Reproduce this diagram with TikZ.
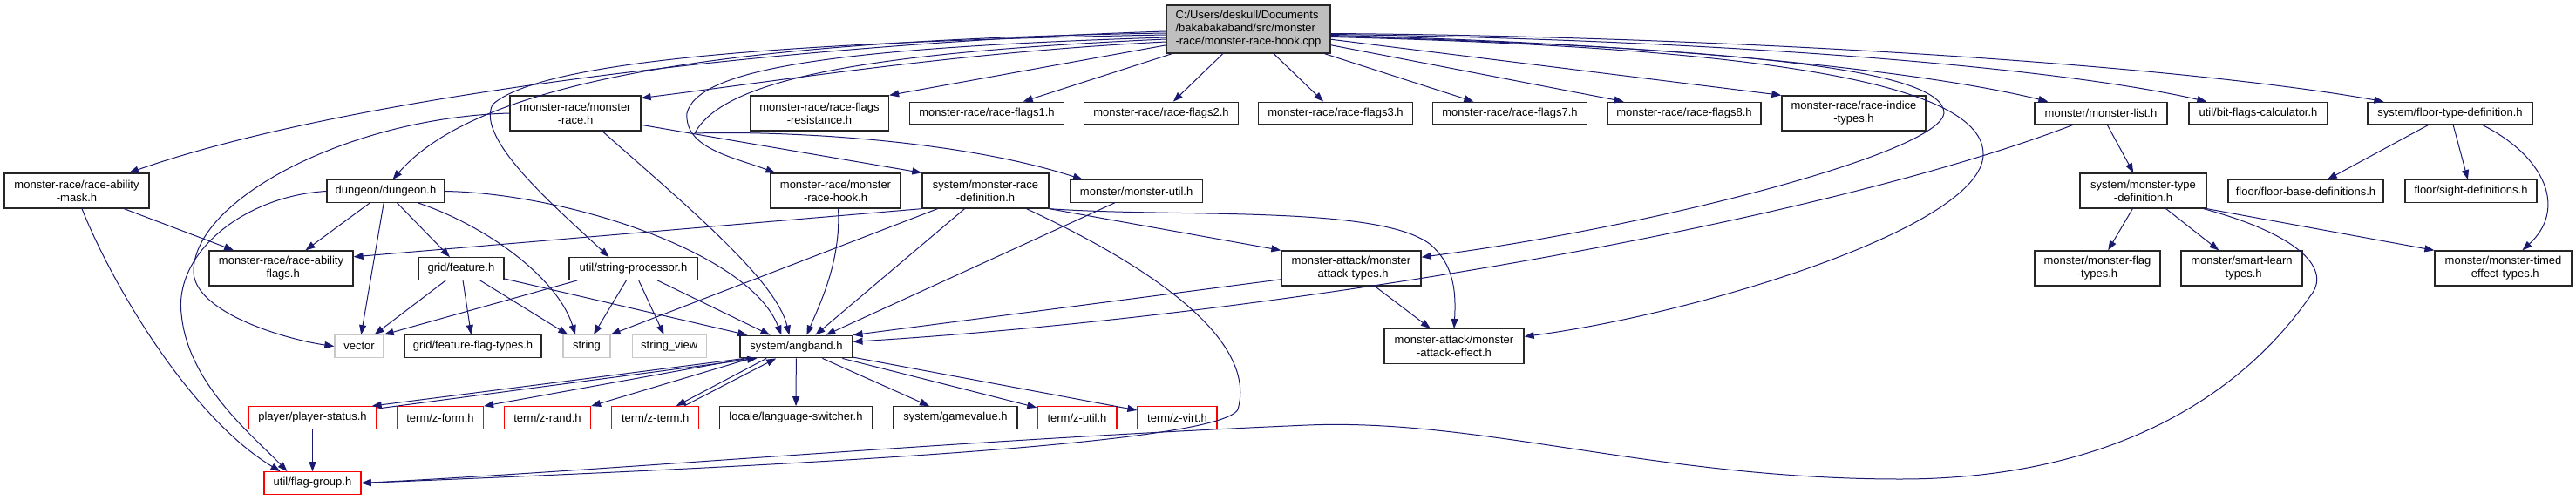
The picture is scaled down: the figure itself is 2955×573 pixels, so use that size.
\documentclass[tikz,border=0pt]{standalone}
\usepackage{fontspec}
\setmainfont{Liberation Sans}
\usetikzlibrary{arrows.meta}
\definecolor{edgeblue}{HTML}{191970}
\definecolor{rootgray}{HTML}{BFBFBF}
\definecolor{extgray}{HTML}{C8C8C8}

\begin{document}
\begin{tikzpicture}[x=1pt, y=-1pt,
  hdr/.style={draw=black!85, line width=1.3pt, fill=white, inner sep=2pt, align=center,
    font=\fontsize{13}{15}\selectfont, minimum height=25.5pt},
  twoline/.style={minimum height=40pt},
  extern/.style={draw=extgray},
  trunc/.style={draw=red},
  dep/.style={draw=edgeblue, line width=1pt, -{Triangle[length=11pt,width=8pt]}}]
  \useasboundingbox (0,0) rectangle (2955,573);

  % root file
  \node[hdr, fill=rootgray, align=left, minimum width=188pt, minimum height=55pt] (main) at (1432,33.5)
    {C:/Users/deskull/Documents\\/bakabakaband/src/monster\\-race/monster-race-hook.cpp};

  % first row
  \node[hdr, twoline, minimum width=150pt] (mrace) at (660,130) {monster-race/monster\\-race.h};
  \node[hdr, twoline, minimum width=159pt] (res) at (940,130) {monster-race/race-flags\\-resistance.h};
  \node[hdr, minimum width=177pt] (f1) at (1132,130) {monster-race/race-flags1.h};
  \node[hdr, minimum width=177pt] (f2) at (1332,130) {monster-race/race-flags2.h};
  \node[hdr, minimum width=177pt] (f3) at (1532,130) {monster-race/race-flags3.h};
  \node[hdr, minimum width=177pt] (f7) at (1732,130) {monster-race/race-flags7.h};
  \node[hdr, minimum width=176pt] (f8) at (1932,130) {monster-race/race-flags8.h};
  \node[hdr, twoline, minimum width=165pt] (indice) at (2126.5,130) {monster-race/race-indice\\-types.h};
  \node[hdr, minimum width=152pt] (mlist) at (2410,130) {monster/monster-list.h};
  \node[hdr, minimum width=159pt] (bitf) at (2590.5,130) {util/bit-flags-calculator.h};
  \node[hdr, minimum width=189pt] (floort) at (2810.5,130) {system/floor-type-definition.h};

  % second row
  \node[hdr, twoline, minimum width=166pt] (mask) at (88,219) {monster-race/race-ability\\-mask.h};
  \node[hdr, minimum width=135pt] (dung) at (442.5,219.5) {dungeon/dungeon.h};
  \node[hdr, twoline, minimum width=149pt] (hook) at (958.5,219) {monster-race/monster\\-race-hook.h};
  \node[hdr, twoline, minimum width=145pt] (mdef) at (1130.5,219) {system/monster-race\\-definition.h};
  \node[hdr, minimum width=152pt] (mutil) at (1303.6,219.5) {monster/monster-util.h};
  \node[hdr, twoline, minimum width=145pt] (mtype) at (2458.5,219) {system/monster-type\\-definition.h};
  \node[hdr, minimum width=178pt] (floorbase) at (2645,219.5) {floor/floor-base-definitions.h};
  \node[hdr, minimum width=151pt] (sight) at (2834.5,219.5) {floor/sight-definitions.h};

  % third row
  \node[hdr, twoline, minimum width=165pt] (abflags) at (322.5,308) {monster-race/race-ability\\-flags.h};
  \node[hdr, minimum width=98pt] (feature) at (529,308.5) {grid/feature.h};
  \node[hdr, minimum width=147pt] (strp) at (726.5,308.5) {util/string-processor.h};
  \node[hdr, twoline, minimum width=160pt] (atk) at (1550,308) {monster-attack/monster\\-attack-types.h};
  \node[hdr, twoline, minimum width=144pt] (mflag) at (2406,308) {monster/monster-flag\\-types.h};
  \node[hdr, twoline, minimum width=139pt] (smart) at (2571.5,308) {monster/smart-learn\\-types.h};
  \node[hdr, twoline, minimum width=157pt] (timed) at (2871.5,308) {monster/monster-timed\\-effect-types.h};

  % fourth row
  \node[hdr, extern, minimum width=56pt] (vector) at (412,397.5) {vector};
  \node[hdr, minimum width=157pt] (fflag) at (542.5,397.5) {grid/feature-flag-types.h};
  \node[hdr, extern, minimum width=54pt] (string) at (673,397.5) {string};
  \node[hdr, extern, minimum width=85pt] (strview) at (767.7,397.5) {string\_view};
  \node[hdr, minimum width=129pt] (angband) at (913.4,398) {system/angband.h};
  \node[hdr, twoline, minimum width=160pt] (eff) at (1668,397.7) {monster-attack/monster\\-attack-effect.h};

  % fifth row
  \node[hdr, trunc, minimum width=147pt] (pstatus) at (358.5,479.5) {player/player-status.h};
  \node[hdr, trunc, minimum width=99pt] (zform) at (505,479.5) {term/z-form.h};
  \node[hdr, trunc, minimum width=99pt] (zrand) at (628,479.5) {term/z-rand.h};
  \node[hdr, trunc, minimum width=100pt] (zterm) at (751.7,479.5) {term/z-term.h};
  \node[hdr, minimum width=175pt] (lang) at (913,479.5) {locale/language-switcher.h};
  \node[hdr, minimum width=142pt] (gameval) at (1096,479.5) {system/gamevalue.h};
  \node[hdr, trunc, minimum width=91pt] (zutil) at (1235.5,479.5) {term/z-util.h};
  \node[hdr, trunc, minimum width=91pt] (zvirt) at (1350.5,479.5) {term/z-virt.h};

  % bottom
  \node[hdr, trunc, minimum width=111pt] (flaggrp) at (358.5,554.5) {util/flag-group.h};

  % root -> left side
  \draw[dep] ([yshift=-2.5pt]main.west) .. controls (900,50) and (400,110) .. (mask.19);
  \draw[dep] ([yshift=-4.5pt]main.west) .. controls (900,45) and (560,80) .. ([xshift=8pt]dung.north);
  \draw[dep] ([yshift=-6.5pt]main.west) .. controls (900,48) and (620,70) .. (565,120)
    .. controls (545,160) and (640,240) .. ([xshift=-28pt]strp.north);
  \draw[dep] ([yshift=-9.5pt]main.west) .. controls (950,55) and (800,80) .. (788,130)
    .. controls (785,170) and (840,180) .. ([xshift=6pt]hook.north west);
  \draw[dep] ([yshift=-11.5pt]main.west) .. controls (1000,60) and (830,90) .. (797,153)
    .. controls (900,150) and (1100,160) .. ([xshift=15pt]mutil.north west);
  \draw[dep] ([yshift=-14.5pt]main.west) .. controls (1100,60) and (900,92) .. (mrace.13);
  \draw[dep] (main.191) -- (res.north east);

  % root -> flags row
  \draw[dep] (main) -- (f1);
  \draw[dep] (main) -- (f2);
  \draw[dep] (main) -- (f3);
  \draw[dep] (main) -- (f7);
  \draw[dep] (main) -- (f8);
  \draw[dep] (main) -- (indice.north west);
  \draw[dep] ([yshift=-7pt]main.east) .. controls (1900,50) and (2200,80) .. ([xshift=16pt]mlist.north west);
  \draw[dep] ([yshift=-6pt]main.east) .. controls (1950,45) and (2350,75) .. ([xshift=21pt]bitf.north west);
  \draw[dep] ([yshift=-5pt]main.east) .. controls (2000,42) and (2500,75) .. ([xshift=19pt]floort.north west);

  % root -> monster-attack (round the right)
  \draw[dep] ([yshift=-8pt]main.east) .. controls (2000,55) and (2230,80) .. (2230,130)
    .. controls (2225,175) and (1900,260) .. (atk.9);
  \draw[dep] ([yshift=-9pt]main.east) .. controls (2050,55) and (2275,100) .. (2275,177)
    .. controls (2275,260) and (1950,360) .. (eff.8);

  % monster-race.h
  \draw[dep] (mrace.west) .. controls (400,135) and (220,230) .. (222,313)
    .. controls (225,360) and (330,390) .. (vector.west);
  \draw[dep] ([xshift=31pt]mrace.south) .. controls (780,230) and (890,320) .. ([xshift=-8pt]angband.north);
  \draw[dep] (mrace.-10) -- (mdef.north west);

  % race-ability-mask.h
  \draw[dep] (mask) -- (abflags);
  \draw[dep] ([xshift=6pt]mask.south) .. controls (130,330) and (220,480) .. ([xshift=-37pt]flaggrp.north);

  % dungeon.h
  \draw[dep] (dung) -- (abflags);
  \draw[dep] (dung) -- (vector);
  \draw[dep] (dung) -- (feature);
  \draw[dep] ([xshift=37pt]dung.south) .. controls (560,260) and (640,320) .. ([xshift=-13pt]string.north);
  \draw[dep] (dung.east) .. controls (650,222) and (860,290) .. ([xshift=-17pt]angband.north);
  \draw[dep] (dung.west) .. controls (280,225) and (200,290) .. (208,360)
    .. controls (215,440) and (290,500) .. ([xshift=-29pt]flaggrp.north);

  % monster-race-hook.h
  \draw[dep] ([xshift=3pt]hook.south) .. controls (965,300) and (940,350) .. ([xshift=12pt]angband.north);

  % monster-race-definition.h
  \draw[dep] (mdef.south west) -- (abflags.9);
  \draw[dep] ([xshift=-55pt]mdef.south) -- (string.north east);
  \draw[dep] ([xshift=-24pt]mdef.south) -- ([xshift=22pt]angband.north);
  \draw[dep] (mdef.south east) -- (atk.north west);
  \draw[dep] (mdef.south east) .. controls (1350,250) and (1580,235) .. (1640,280)
    .. controls (1670,305) and (1670,340) .. (eff.north);
  \draw[dep] ([xshift=47pt]mdef.south) .. controls (1350,320) and (1440,400) .. (1420,470)
    .. controls (1400,510) and (900,535) .. (flaggrp.east);

  % monster-util.h
  \draw[dep] ([xshift=-25pt]mutil.south) -- ([xshift=34pt]angband.north);

  % string-processor.h
  \draw[dep] ([xshift=10pt]strp.south west) -- (vector.north east);
  \draw[dep] (strp) -- (string);
  \draw[dep] (strp) -- (strview);
  \draw[dep] (strp) -- ([xshift=-30pt]angband.north);

  % feature.h
  \draw[dep] (feature) -- (vector);
  \draw[dep] (feature) -- (fflag);
  \draw[dep] (feature) -- (string);
  \draw[dep] (feature) -- ([xshift=-56pt]angband.north);

  % monster-attack-types.h
  \draw[dep] (atk) -- (eff);
  \draw[dep] (atk.189) -- (angband.north east);

  % monster-list.h
  \draw[dep] (mlist) -- (mtype);
  \draw[dep] ([xshift=-32pt]mlist.south) .. controls (2100,250) and (1500,360) .. (angband.5);

  % monster-type-definition.h
  \draw[dep] (mtype) -- (mflag);
  \draw[dep] (mtype) -- (smart);
  \draw[dep] (mtype.south east) -- (timed.north west);
  \draw[dep] ([xshift=-4pt]mtype.south east) .. controls (2640,270) and (2675,310) .. (2650,340)
    .. controls (2560,470) and (2400,550) .. (2180,550)
    .. controls (1900,550) and (1700,480) .. (1500,488)
    .. controls (1100,505) and (700,540) .. (flaggrp.east);

  % floor-type-definition.h
  \draw[dep] (floort) -- (floorbase);
  \draw[dep] (floort) -- (sight);
  \draw[dep] ([xshift=37pt]floort.south) .. controls (2920,180) and (2945,240) .. ([xshift=22pt]timed.north);

  % angband.h
  \draw[dep] ([xshift=6pt]angband.south west) -- ([xshift=-6pt]pstatus.north east);
  \draw[dep] ([yshift=-3pt]pstatus.north east) -- ([xshift=20pt]angband.south west);
  \draw[dep] ([xshift=9pt]angband.south west) -- (zform.north east);
  \draw[dep] ([xshift=13pt]angband.south west) -- (zrand.north east);
  \draw[dep] ([xshift=31pt]angband.south west) -- ([xshift=24pt]zterm.north);
  \draw[dep] ([xshift=33pt]zterm.north) -- ([xshift=42pt]angband.south west);
  \draw[dep] (angband) -- (lang);
  \draw[dep] (angband) -- (gameval);
  \draw[dep] (angband) -- (zutil);
  \draw[dep] (angband) -- (zvirt);

  % player-status.h
  \draw[dep] (pstatus) -- (flaggrp);
\end{tikzpicture}
\end{document}
